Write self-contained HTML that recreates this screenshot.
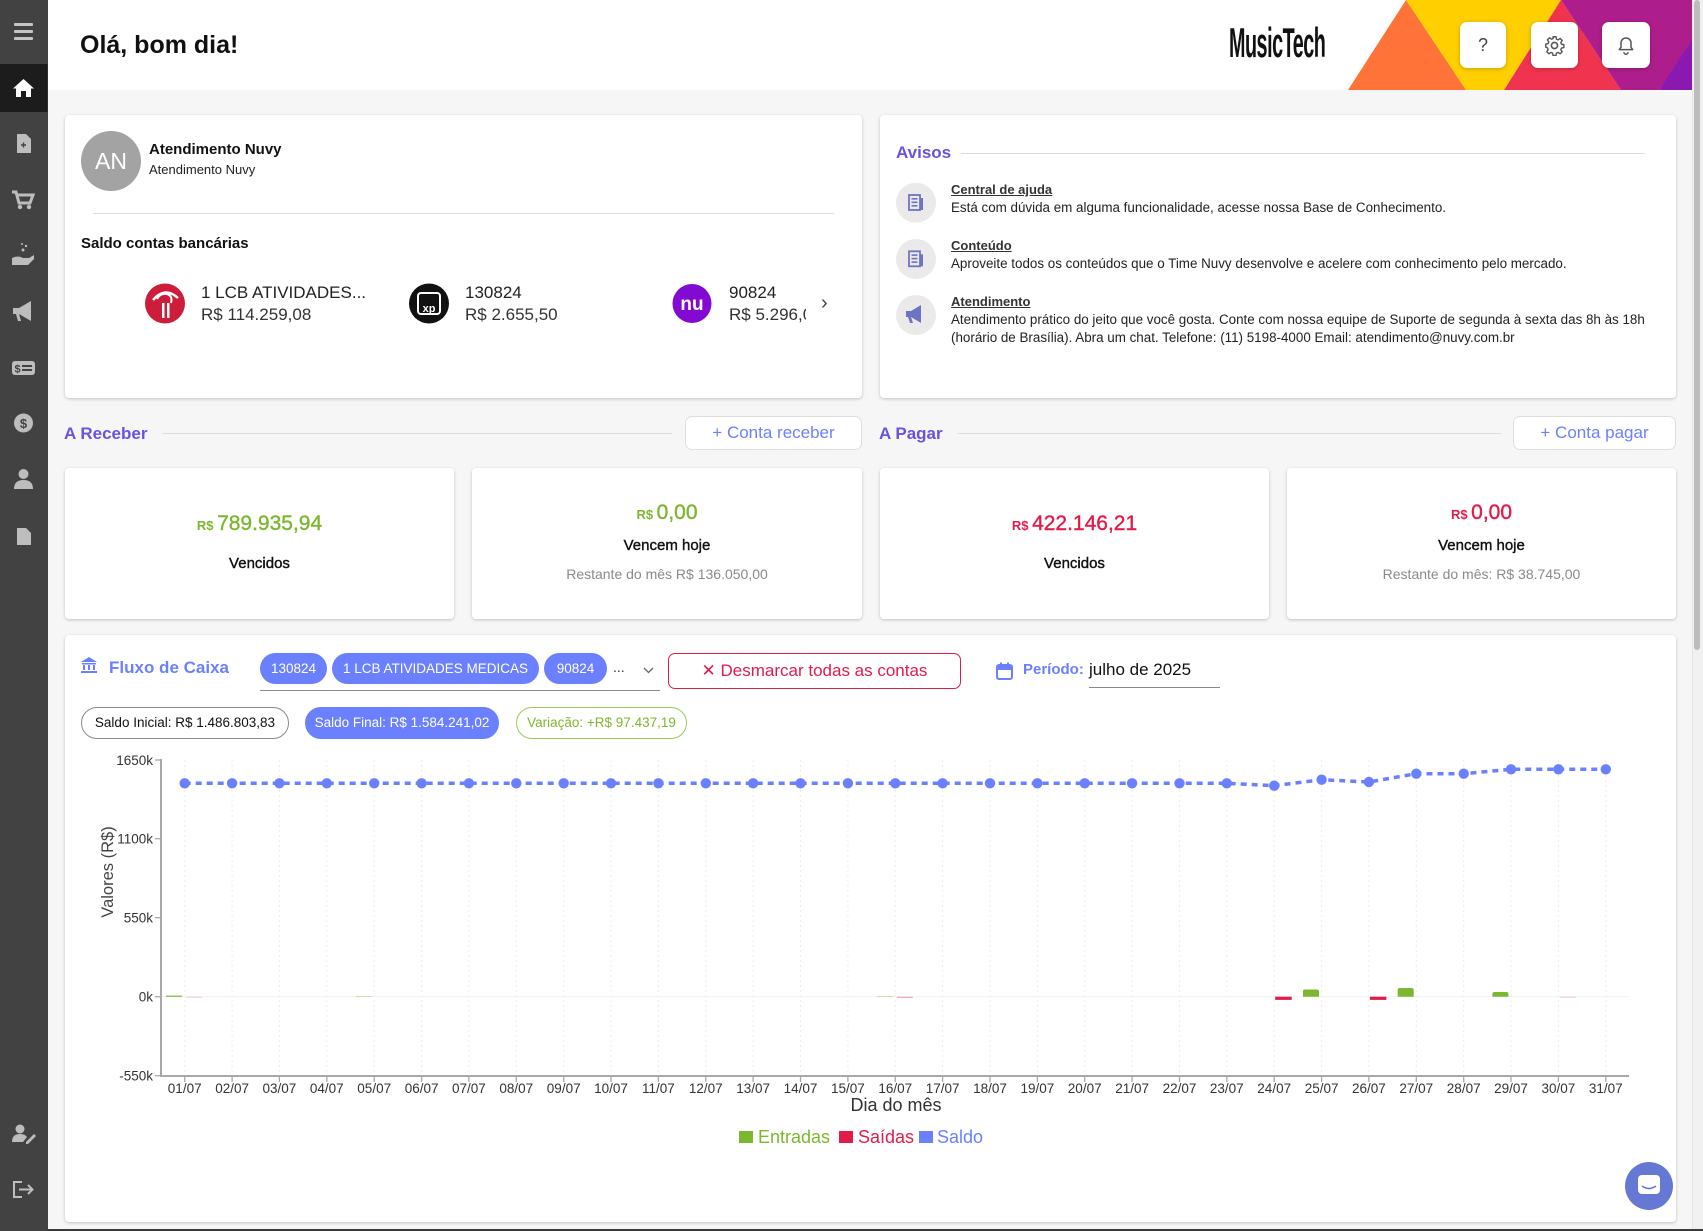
<!DOCTYPE html>
<html><head><meta charset="utf-8">
<style>
*{box-sizing:border-box;margin:0;padding:0}
html,body{width:1703px;height:1231px;overflow:hidden;background:#f6f6f6;font-family:"Liberation Sans",Arial,sans-serif;color:#222}
.a{position:absolute}
.t{position:absolute;white-space:nowrap;line-height:1}
.card{position:absolute;background:#fff;border-radius:4px;box-shadow:0 1px 3px rgba(0,0,0,.22)}
.btn{position:absolute;background:#fff;border-radius:7px;box-shadow:0 1px 4px rgba(0,0,0,.22)}
.chip{position:absolute;background:#6b80ff;color:#fff;border-radius:16px;font-size:13.5px;line-height:31px;height:31px;text-align:center;white-space:nowrap}
.pill{position:absolute;border-radius:16px;font-size:13.5px;height:32px;line-height:30px;text-align:center;white-space:nowrap}
.big{position:absolute;white-space:nowrap;line-height:1;text-align:center}
.med{-webkit-text-stroke:0.4px currentColor}
</style></head><body>

<!-- header -->
<div class="a" style="left:47px;top:0;width:1646px;height:90px;background:#fff"></div>
<div class="t" style="left:80px;top:33px;font-size:25px;font-weight:bold;color:#111">Olá, bom dia!</div>
<div class="t" style="left:1229px;top:22px;font-size:42px;font-weight:bold;color:#111;letter-spacing:-1px;transform:scaleX(0.47);transform-origin:0 0">MusicTech</div>

<svg class="a" style="left:0;top:0" width="1703" height="92">
  <polygon points="1348,90 1406,0 1466,90" fill="#ff7338"/>
  <polygon points="1406,0 1561,0 1504,90 1466,90" fill="#ffcf00"/>
  <polygon points="1504,90 1561,0 1621,90" fill="#f0334e"/>
  <polygon points="1561,0 1692,0 1692,42 1659,90 1621,90" fill="#ae1d8c"/>
  <polygon points="1659,90 1692,40 1692,90" fill="#8a19b2"/>
</svg>

<div class="btn" style="left:1460px;top:22px;width:46px;height:46px"></div>
<div class="t" style="left:1460px;top:36px;width:46px;text-align:center;font-size:18px;color:#444">?</div>
<div class="btn" style="left:1531px;top:22px;width:47px;height:46px"></div>
<svg class="a" style="left:1544px;top:35px" width="21" height="21" viewBox="0 0 24 24">
  <path d="M12 8.5a3.5 3.5 0 1 0 0 7a3.5 3.5 0 1 0 0-7z" fill="none" stroke="#555" stroke-width="1.8"/>
  <path d="M10.3 2h3.4l.5 2.7 1.9.8 2.3-1.6 2.4 2.4-1.6 2.3.8 1.9 2.7.5v3.4l-2.7.5-.8 1.9 1.6 2.3-2.4 2.4-2.3-1.6-1.9.8-.5 2.7h-3.4l-.5-2.7-1.9-.8-2.3 1.6-2.4-2.4 1.6-2.3-.8-1.9L2 13.7v-3.4l2.7-.5.8-1.9-1.6-2.3 2.4-2.4 2.3 1.6 1.9-.8z" fill="none" stroke="#555" stroke-width="1.6" stroke-linejoin="round"/>
</svg>
<div class="btn" style="left:1602px;top:22px;width:48px;height:46px"></div>
<svg class="a" style="left:1616px;top:35px" width="20" height="21" viewBox="0 0 24 24">
  <path d="M12 3c-3.5 0-6 2.6-6 6v5l-2 3h16l-2-3V9c0-3.4-2.5-6-6-6z" fill="none" stroke="#555" stroke-width="1.8" stroke-linejoin="round"/>
  <path d="M9.5 20a2.5 2.5 0 0 0 5 0" fill="none" stroke="#555" stroke-width="1.8"/>
</svg>

<!-- scrollbar -->
<div class="a" style="left:1692px;top:0;width:11px;height:1231px;background:#f1f1f1;border-left:1px solid #e4e4e4"></div>
<div class="a" style="left:1694px;top:0;width:6px;height:650px;background:#bdbdbd;border-radius:3px"></div>

<!-- sidebar -->
<div class="a" style="left:0;top:0;width:47.5px;height:1231px;background:#424242"></div>
<svg class="a" style="left:0;top:0" width="48" height="1231">
  <rect x="14" y="23" width="19" height="3" rx="1" fill="#c4c4c4"/>
  <rect x="14" y="30" width="19" height="3" rx="1" fill="#c4c4c4"/>
  <rect x="14" y="37" width="19" height="3" rx="1" fill="#c4c4c4"/>
  <rect x="0" y="64" width="47.5" height="48" fill="#1c1c1c"/>
  <path d="M23.5,79 L13,88.5 L16,88.5 L16,97 L21,97 L21,91 L26,91 L26,97 L31,97 L31,88.5 L34,88.5 Z" fill="#fff"/>
  <path d="M17,134 h9 l5,5 v14 h-14 z" fill="#bdbdbd"/><path d="M21,145 h5 M23.5,142.5 v5" stroke="#424242" stroke-width="1.4"/>
  <path d="M12,192 h4 l3,11 h11 l3,-8 h-15" fill="none" stroke="#bdbdbd" stroke-width="3"/><circle cx="20" cy="207" r="2.2" fill="#bdbdbd"/><circle cx="29" cy="207" r="2.2" fill="#bdbdbd"/>
  <path d="M12,258 q6,-3 11,0 h6 l5,-3 v4 l-6,6 h-16 z" fill="#bdbdbd"/><circle cx="23" cy="250" r="1.5" fill="#bdbdbd"/><circle cx="26" cy="246" r="1.2" fill="#bdbdbd"/><circle cx="22" cy="244" r="1" fill="#bdbdbd"/>
  <path d="M13,308 h6 l12,-7 v20 l-12,-7 h-6 z" fill="#bdbdbd"/><path d="M16,314 l2,7 h3 l-2,-7z" fill="#bdbdbd"/>
  <rect x="12" y="361" width="23" height="14" rx="3" fill="#bdbdbd"/><text x="14.5" y="372.5" font-size="11" font-weight="bold" fill="#424242" font-family="Liberation Sans">$</text><rect x="22" y="365" width="10" height="2" fill="#424242"/><rect x="22" y="369" width="10" height="2" fill="#424242"/>
  <circle cx="23.5" cy="423" r="9.5" fill="#bdbdbd"/><text x="23.5" y="428" font-size="13" font-weight="bold" fill="#424242" text-anchor="middle" font-family="Liberation Sans">$</text>
  <circle cx="23.5" cy="474" r="5" fill="#bdbdbd"/><path d="M14,489 q0,-9 9.5,-9 q9.5,0 9.5,9 z" fill="#bdbdbd"/>
  <path d="M17,528 h9 l5,5 v12 h-14 z" fill="#bdbdbd"/>
  <circle cx="20" cy="1129" r="4.5" fill="#bdbdbd"/><path d="M12,1142 q0,-8 8,-8 q5,0 7,3 l-4,5 z" fill="#bdbdbd"/><path d="M26,1142 l8,-8 2,2 -8,8 h-2z" fill="#bdbdbd"/>
  <path d="M22,1182 h-8 v15 h8" fill="none" stroke="#bdbdbd" stroke-width="2"/><path d="M19,1189.5 h13 M28,1185 l4.5,4.5 -4.5,4.5" fill="none" stroke="#bdbdbd" stroke-width="2"/>
</svg>

<!-- top left card -->
<div class="card" style="left:65px;top:115px;width:797px;height:283px"></div>
<div class="a" style="left:81px;top:131px;width:60px;height:60px;border-radius:50%;background:#a3a3a3;color:#fff;font-size:23px;line-height:60px;text-align:center">AN</div>
<div class="t" style="left:149px;top:142px;font-size:15px;font-weight:bold;color:#111">Atendimento Nuvy</div>
<div class="t" style="left:149px;top:163px;font-size:13px;color:#222">Atendimento Nuvy</div>
<div class="a" style="left:93px;top:213px;width:741px;height:1px;background:#dcdcdc"></div>
<div class="t" style="left:81px;top:236px;font-size:15px;font-weight:bold;color:#111">Saldo contas bancárias</div>

<svg class="a" style="left:0;top:0" width="860" height="400">
  <circle cx="165" cy="303.5" r="20" fill="#cc1e3a"/>
  <path d="M153,300 q12,-14 25,-2" fill="none" stroke="#fff" stroke-width="2.5"/>
  <path d="M157,299 q3,-6 10,-5 q6,2 4,9" fill="none" stroke="#fff" stroke-width="2"/>
  <rect x="162" y="303" width="2.5" height="15" fill="#fff"/><rect x="167" y="303" width="2.5" height="15" fill="#fff"/>
  <circle cx="429" cy="303.5" r="20" fill="#111"/>
  <rect x="418" y="293" width="22" height="21" rx="3" fill="none" stroke="#fff" stroke-width="2"/>
  <text x="429" y="312" font-size="11" font-weight="bold" fill="#fff" text-anchor="middle" font-family="Liberation Sans">xp</text>
  <circle cx="692" cy="303.5" r="19.5" fill="#820ad1"/>
  <text x="692" y="310" font-size="19" font-weight="bold" fill="#fff" text-anchor="middle" font-family="Liberation Sans">nu</text>
</svg>
<div class="t" style="left:201px;top:283.5px;font-size:17px;color:#222">1 LCB ATIVIDADES...</div>
<div class="t" style="left:201px;top:305.5px;font-size:17px;color:#333">R$ 114.259,08</div>
<div class="t" style="left:465px;top:283.5px;font-size:17px;color:#222">130824</div>
<div class="t" style="left:465px;top:305.5px;font-size:17px;color:#333">R$ 2.655,50</div>
<div class="t" style="left:729px;top:283.5px;font-size:17px;color:#222">90824</div>
<div class="a" style="left:729px;top:303px;width:77px;height:22px;overflow:hidden"><div class="t" style="left:0;top:2.5px;font-size:17px;color:#333">R$ 5.296,00</div></div>
<div class="t" style="left:821px;top:293px;font-size:20px;color:#444">›</div>

<!-- avisos card -->
<div class="card" style="left:880px;top:115px;width:796px;height:283px"></div>
<div class="t" style="left:896px;top:144px;font-size:17px;font-weight:bold;color:#6a52e0">Avisos</div>
<div class="a" style="left:961px;top:153px;width:684px;height:1px;background:#dcdcdc"></div>
<svg class="a" style="left:890px;top:180px" width="54" height="160">
  <circle cx="26" cy="22.7" r="20" fill="#ebe9ea"/>
  <rect x="19" y="15" width="11" height="15" fill="none" stroke="#6d74c2" stroke-width="1.8"/><rect x="21.5" y="18" width="6" height="1.6" fill="#6d74c2"/><rect x="21.5" y="21.5" width="6" height="1.6" fill="#6d74c2"/><rect x="21.5" y="25" width="6" height="1.6" fill="#6d74c2"/><rect x="30" y="18" width="3" height="12" fill="#6d74c2"/>
  <circle cx="26" cy="79" r="20" fill="#ebe9ea"/>
  <rect x="19" y="71.3" width="11" height="15" fill="none" stroke="#6d74c2" stroke-width="1.8"/><rect x="21.5" y="74.3" width="6" height="1.6" fill="#6d74c2"/><rect x="21.5" y="77.8" width="6" height="1.6" fill="#6d74c2"/><rect x="21.5" y="81.3" width="6" height="1.6" fill="#6d74c2"/><rect x="30" y="74.3" width="3" height="12" fill="#6d74c2"/>
  <circle cx="26" cy="135" r="20" fill="#ebe9ea"/>
  <path d="M16,131 h5 l10,-6 v18 l-10,-6 h-5 z" fill="#6d74c2"/><path d="M18,137 l2,6 h3 l-2,-6z" fill="#6d74c2"/>
</svg>
<div class="t" style="left:951px;top:183px;font-size:13px;font-weight:bold;color:#333;text-decoration:underline">Central de ajuda</div>
<div class="t" style="left:951px;top:201px;font-size:13.4px;color:#222">Está com dúvida em alguma funcionalidade, acesse nossa Base de Conhecimento.</div>
<div class="t" style="left:951px;top:239px;font-size:13px;font-weight:bold;color:#333;text-decoration:underline">Conteúdo</div>
<div class="t" style="left:951px;top:257px;font-size:13.4px;color:#222">Aproveite todos os conteúdos que o Time Nuvy desenvolve e acelere com conhecimento pelo mercado.</div>
<div class="t" style="left:951px;top:295px;font-size:13px;font-weight:bold;color:#333;text-decoration:underline">Atendimento</div>
<div class="t" style="left:951px;top:313px;font-size:13.4px;color:#222">Atendimento prático do jeito que você gosta. Conte com nossa equipe de Suporte de segunda à sexta das 8h às 18h</div>
<div class="t" style="left:951px;top:331px;font-size:13.4px;color:#222">(horário de Brasília). Abra um chat. Telefone: (11) 5198-4000 Email: atendimento@nuvy.com.br</div>

<!-- section headers -->
<div class="t" style="left:64px;top:425px;font-size:17px;font-weight:bold;color:#6a52e0">A Receber</div>
<div class="a" style="left:162px;top:433px;width:510px;height:1px;background:#dcdcdc"></div>
<div class="a" style="left:685px;top:416px;width:177px;height:34px;background:#fff;border:1px solid #dedede;border-radius:7px;color:#6b80ff;font-size:17px;line-height:32px;text-align:center">+ Conta receber</div>
<div class="t" style="left:879px;top:425px;font-size:17px;font-weight:bold;color:#6a52e0">A Pagar</div>
<div class="a" style="left:958px;top:433px;width:543px;height:1px;background:#dcdcdc"></div>
<div class="a" style="left:1513px;top:416px;width:163px;height:34px;background:#fff;border:1px solid #dedede;border-radius:7px;color:#6b80ff;font-size:17px;line-height:32px;text-align:center">+ Conta pagar</div>

<!-- value cards -->
<div class="card" style="left:65px;top:468px;width:389px;height:151px"></div>
<div class="card" style="left:472px;top:468px;width:390px;height:151px"></div>
<div class="card" style="left:880px;top:468px;width:389px;height:151px"></div>
<div class="card" style="left:1287px;top:468px;width:389px;height:151px"></div>

<div class="big" style="left:65px;width:389px;top:513px;color:#7cb82f"><span style="font-size:13px;font-weight:bold">R$ </span><span class="med" style="font-size:21px">789.935,94</span></div>
<div class="big med" style="left:65px;width:389px;top:556px;font-size:15px;color:#111">Vencidos</div>

<div class="big" style="left:472px;width:390px;top:502px;color:#7cb82f"><span style="font-size:13px;font-weight:bold">R$ </span><span class="med" style="font-size:21px">0,00</span></div>
<div class="big med" style="left:472px;width:390px;top:538px;font-size:15px;color:#111">Vencem hoje</div>
<div class="big" style="left:472px;width:390px;top:567px;font-size:14px;color:#8a8a8a">Restante do mês R$ 136.050,00</div>

<div class="big" style="left:880px;width:389px;top:513px;color:#e31b4b"><span style="font-size:13px;font-weight:bold">R$ </span><span class="med" style="font-size:21px">422.146,21</span></div>
<div class="big med" style="left:880px;width:389px;top:556px;font-size:15px;color:#111">Vencidos</div>

<div class="big" style="left:1287px;width:389px;top:502px;color:#e31b4b"><span style="font-size:13px;font-weight:bold">R$ </span><span class="med" style="font-size:21px">0,00</span></div>
<div class="big med" style="left:1287px;width:389px;top:538px;font-size:15px;color:#111">Vencem hoje</div>
<div class="big" style="left:1287px;width:389px;top:567px;font-size:14px;color:#8a8a8a">Restante do mês: R$ 38.745,00</div>

<!-- fluxo de caixa card -->
<div class="card" style="left:65px;top:635px;width:1611px;height:587px"></div>
<svg class="a" style="left:80px;top:656px" width="18" height="18" viewBox="0 0 18 18">
  <path d="M1,6 L9,1 L17,6 Z" fill="#6b80ff"/><rect x="2" y="7" width="14" height="1.5" fill="#6b80ff"/>
  <rect x="3" y="9" width="2" height="5" fill="#6b80ff"/><rect x="8" y="9" width="2" height="5" fill="#6b80ff"/><rect x="13" y="9" width="2" height="5" fill="#6b80ff"/>
  <rect x="1" y="15" width="16" height="2" fill="#6b80ff"/>
</svg>
<div class="t" style="left:109px;top:658.5px;font-size:17px;font-weight:bold;color:#6b80ff">Fluxo de Caixa</div>

<div class="chip" style="left:260px;top:653px;width:67px">130824</div>
<div class="chip" style="left:332px;top:653px;width:207px">1 LCB ATIVIDADES MEDICAS</div>
<div class="chip" style="left:544px;top:653px;width:63px">90824</div>
<div class="t" style="left:613px;top:660px;font-size:14px;color:#333">...</div>
<svg class="a" style="left:643px;top:667px" width="11" height="7"><path d="M1,1 L5.5,5.5 L10,1" fill="none" stroke="#666" stroke-width="1.3"/></svg>
<div class="a" style="left:260px;top:690px;width:400px;height:1px;background:#8a8a8a"></div>

<div class="a" style="left:668px;top:653px;width:293px;height:36px;border:1px solid #e31b4b;border-radius:7px"></div>
<div class="t" style="left:668px;width:293px;text-align:center;top:662px;font-size:17px;color:#e31b4b">✕ Desmarcar todas as contas</div>

<svg class="a" style="left:996px;top:662px" width="17" height="18" viewBox="0 0 17 18">
  <rect x="1" y="3" width="15" height="14" rx="2" fill="none" stroke="#6b80ff" stroke-width="2"/>
  <rect x="1" y="3" width="15" height="5" fill="#6b80ff"/>
  <rect x="4" y="0.5" width="2" height="4" fill="#6b80ff"/><rect x="11" y="0.5" width="2" height="4" fill="#6b80ff"/>
</svg>
<div class="t" style="left:1023px;top:661.5px;font-size:15px;font-weight:bold;color:#6b80ff">Período:</div>
<div class="t" style="left:1089px;top:660.5px;font-size:17px;color:#111">julho de 2025</div>
<div class="a" style="left:1089px;top:687px;width:131px;height:1px;background:#8a8a8a"></div>

<div class="pill" style="left:81px;top:707px;width:208px;background:#fff;border:1px solid #8a8a8a;color:#111">Saldo Inicial: R$ 1.486.803,83</div>
<div class="pill" style="left:305px;top:707px;width:194px;background:#6b80ff;border:1px solid #6b80ff;color:#fff">Saldo Final: R$ 1.584.241,02</div>
<div class="pill" style="left:516px;top:707px;width:171px;background:#fff;border:1px solid #9bcc5a;color:#7cb82f">Variação: +R$ 97.437,19</div>

<!-- chart -->
<svg class="a" style="left:0;top:0" width="1703" height="1231" font-family="Liberation Sans, Arial, sans-serif">
  <g stroke="#ececec" stroke-width="1" stroke-dasharray="2 3">
    <line x1="184.7" y1="760" x2="184.7" y2="1076"/><line x1="232.1" y1="760" x2="232.1" y2="1076"/><line x1="279.4" y1="760" x2="279.4" y2="1076"/><line x1="326.8" y1="760" x2="326.8" y2="1076"/><line x1="374.2" y1="760" x2="374.2" y2="1076"/><line x1="421.6" y1="760" x2="421.6" y2="1076"/><line x1="468.9" y1="760" x2="468.9" y2="1076"/><line x1="516.3" y1="760" x2="516.3" y2="1076"/><line x1="563.7" y1="760" x2="563.7" y2="1076"/><line x1="611.0" y1="760" x2="611.0" y2="1076"/><line x1="658.4" y1="760" x2="658.4" y2="1076"/><line x1="705.8" y1="760" x2="705.8" y2="1076"/><line x1="753.1" y1="760" x2="753.1" y2="1076"/><line x1="800.5" y1="760" x2="800.5" y2="1076"/><line x1="847.9" y1="760" x2="847.9" y2="1076"/><line x1="895.3" y1="760" x2="895.3" y2="1076"/><line x1="942.6" y1="760" x2="942.6" y2="1076"/><line x1="990.0" y1="760" x2="990.0" y2="1076"/><line x1="1037.4" y1="760" x2="1037.4" y2="1076"/><line x1="1084.7" y1="760" x2="1084.7" y2="1076"/><line x1="1132.1" y1="760" x2="1132.1" y2="1076"/><line x1="1179.5" y1="760" x2="1179.5" y2="1076"/><line x1="1226.8" y1="760" x2="1226.8" y2="1076"/><line x1="1274.2" y1="760" x2="1274.2" y2="1076"/><line x1="1321.6" y1="760" x2="1321.6" y2="1076"/><line x1="1368.9" y1="760" x2="1368.9" y2="1076"/><line x1="1416.3" y1="760" x2="1416.3" y2="1076"/><line x1="1463.7" y1="760" x2="1463.7" y2="1076"/><line x1="1511.0" y1="760" x2="1511.0" y2="1076"/><line x1="1558.4" y1="760" x2="1558.4" y2="1076"/><line x1="1605.8" y1="760" x2="1605.8" y2="1076"/>
  </g>
  <line x1="161" y1="996.7" x2="1629" y2="996.7" stroke="#f1f1f1" stroke-width="1"/>

  <!-- bars -->
  <rect x="166" y="995.6" width="16" height="1.2" fill="#7cb82f"/>
  <rect x="186" y="996.7" width="16" height="1" fill="#f2c6d2"/>
  <rect x="356" y="996" width="16" height="1" fill="#cde0a8"/>
  <rect x="877" y="996" width="16" height="1" fill="#cde0a8"/>
  <rect x="897" y="996.7" width="16" height="1.2" fill="#f0a5b8"/>
  <rect x="1560" y="996.7" width="16" height="1" fill="#f2c6d2"/>
  <rect x="1275.2" y="996.7" width="16.5" height="3.2" fill="#e31b4b"/>
  <rect x="1369.9" y="996.7" width="16.5" height="3.2" fill="#e31b4b"/>
  <path d="M1303,996.7 V991.5 q0,-2 2,-2 h12 q2,0 2,2 V996.7 Z" fill="#7cb82f"/>
  <path d="M1397.7,996.7 V990 q0,-2 2,-2 h12 q2,0 2,2 V996.7 Z" fill="#7cb82f"/>
  <path d="M1492.4,996.7 V993.8 q0,-1.8 2,-1.8 h12 q2,0 2,1.8 V996.7 Z" fill="#7cb82f"/>

  <!-- axes -->
  <line x1="161" y1="759" x2="161" y2="1077" stroke="#a8a8a8" stroke-width="2"/>
  <line x1="160" y1="1076" x2="1629" y2="1076" stroke="#a8a8a8" stroke-width="2"/>
  <g stroke="#a8a8a8" stroke-width="1.3">
    <line x1="155" y1="760" x2="161" y2="760"/><line x1="155" y1="838.7" x2="161" y2="838.7"/><line x1="155" y1="917.7" x2="161" y2="917.7"/><line x1="155" y1="996.7" x2="161" y2="996.7"/><line x1="155" y1="1075.7" x2="161" y2="1075.7"/>
    <line x1="184.7" y1="1076" x2="184.7" y2="1082"/><line x1="232.1" y1="1076" x2="232.1" y2="1082"/><line x1="279.4" y1="1076" x2="279.4" y2="1082"/><line x1="326.8" y1="1076" x2="326.8" y2="1082"/><line x1="374.2" y1="1076" x2="374.2" y2="1082"/><line x1="421.6" y1="1076" x2="421.6" y2="1082"/><line x1="468.9" y1="1076" x2="468.9" y2="1082"/><line x1="516.3" y1="1076" x2="516.3" y2="1082"/><line x1="563.7" y1="1076" x2="563.7" y2="1082"/><line x1="611.0" y1="1076" x2="611.0" y2="1082"/><line x1="658.4" y1="1076" x2="658.4" y2="1082"/><line x1="705.8" y1="1076" x2="705.8" y2="1082"/><line x1="753.1" y1="1076" x2="753.1" y2="1082"/><line x1="800.5" y1="1076" x2="800.5" y2="1082"/><line x1="847.9" y1="1076" x2="847.9" y2="1082"/><line x1="895.3" y1="1076" x2="895.3" y2="1082"/><line x1="942.6" y1="1076" x2="942.6" y2="1082"/><line x1="990.0" y1="1076" x2="990.0" y2="1082"/><line x1="1037.4" y1="1076" x2="1037.4" y2="1082"/><line x1="1084.7" y1="1076" x2="1084.7" y2="1082"/><line x1="1132.1" y1="1076" x2="1132.1" y2="1082"/><line x1="1179.5" y1="1076" x2="1179.5" y2="1082"/><line x1="1226.8" y1="1076" x2="1226.8" y2="1082"/><line x1="1274.2" y1="1076" x2="1274.2" y2="1082"/><line x1="1321.6" y1="1076" x2="1321.6" y2="1082"/><line x1="1368.9" y1="1076" x2="1368.9" y2="1082"/><line x1="1416.3" y1="1076" x2="1416.3" y2="1082"/><line x1="1463.7" y1="1076" x2="1463.7" y2="1082"/><line x1="1511.0" y1="1076" x2="1511.0" y2="1082"/><line x1="1558.4" y1="1076" x2="1558.4" y2="1082"/><line x1="1605.8" y1="1076" x2="1605.8" y2="1082"/>
  </g>
  <g font-size="13.5" fill="#333" text-anchor="end">
    <text x="153" y="765">1650k</text><text x="153" y="843.5">1100k</text><text x="153" y="922.5">550k</text><text x="153" y="1001.5">0k</text><text x="153" y="1080.5">-550k</text>
  </g>
  <g font-size="13.5" fill="#333" text-anchor="middle">
    <text x="184.7" y="1093">01/07</text><text x="232.1" y="1093">02/07</text><text x="279.4" y="1093">03/07</text><text x="326.8" y="1093">04/07</text><text x="374.2" y="1093">05/07</text><text x="421.6" y="1093">06/07</text><text x="468.9" y="1093">07/07</text><text x="516.3" y="1093">08/07</text><text x="563.7" y="1093">09/07</text><text x="611.0" y="1093">10/07</text><text x="658.4" y="1093">11/07</text><text x="705.8" y="1093">12/07</text><text x="753.1" y="1093">13/07</text><text x="800.5" y="1093">14/07</text><text x="847.9" y="1093">15/07</text><text x="895.3" y="1093">16/07</text><text x="942.6" y="1093">17/07</text><text x="990.0" y="1093">18/07</text><text x="1037.4" y="1093">19/07</text><text x="1084.7" y="1093">20/07</text><text x="1132.1" y="1093">21/07</text><text x="1179.5" y="1093">22/07</text><text x="1226.8" y="1093">23/07</text><text x="1274.2" y="1093">24/07</text><text x="1321.6" y="1093">25/07</text><text x="1368.9" y="1093">26/07</text><text x="1416.3" y="1093">27/07</text><text x="1463.7" y="1093">28/07</text><text x="1511.0" y="1093">29/07</text><text x="1558.4" y="1093">30/07</text><text x="1605.8" y="1093">31/07</text>
  </g>
  <text x="896" y="1111" font-size="18" fill="#333" text-anchor="middle">Dia do mês</text>
  <text transform="translate(113,872) rotate(-90)" font-size="16.5" fill="#444" text-anchor="middle">Valores (R$)</text>

  <!-- saldo line -->
  <polyline fill="none" stroke="#6b80ff" stroke-width="3.5" stroke-dasharray="6 5" points="184.7,783.3 232.1,783.3 279.4,783.3 326.8,783.3 374.2,783.3 421.6,783.3 468.9,783.3 516.3,783.3 563.7,783.3 611.0,783.3 658.4,783.3 705.8,783.3 753.1,783.3 800.5,783.3 847.9,783.3 895.3,783.3 942.6,783.3 990.0,783.3 1037.4,783.3 1084.7,783.3 1132.1,783.3 1179.5,783.3 1226.8,783.3 1274.2,785.7 1321.6,779.7 1368.9,782 1416.3,773.7 1463.7,773.7 1511.0,769.3 1558.4,769.3 1605.8,769.3"/>
  <g fill="#6b80ff">
    <circle cx="184.7" cy="783.3" r="5.2"/><circle cx="232.1" cy="783.3" r="5.2"/><circle cx="279.4" cy="783.3" r="5.2"/><circle cx="326.8" cy="783.3" r="5.2"/><circle cx="374.2" cy="783.3" r="5.2"/><circle cx="421.6" cy="783.3" r="5.2"/><circle cx="468.9" cy="783.3" r="5.2"/><circle cx="516.3" cy="783.3" r="5.2"/><circle cx="563.7" cy="783.3" r="5.2"/><circle cx="611.0" cy="783.3" r="5.2"/><circle cx="658.4" cy="783.3" r="5.2"/><circle cx="705.8" cy="783.3" r="5.2"/><circle cx="753.1" cy="783.3" r="5.2"/><circle cx="800.5" cy="783.3" r="5.2"/><circle cx="847.9" cy="783.3" r="5.2"/><circle cx="895.3" cy="783.3" r="5.2"/><circle cx="942.6" cy="783.3" r="5.2"/><circle cx="990.0" cy="783.3" r="5.2"/><circle cx="1037.4" cy="783.3" r="5.2"/><circle cx="1084.7" cy="783.3" r="5.2"/><circle cx="1132.1" cy="783.3" r="5.2"/><circle cx="1179.5" cy="783.3" r="5.2"/><circle cx="1226.8" cy="783.3" r="5.2"/><circle cx="1274.2" cy="785.7" r="5.2"/><circle cx="1321.6" cy="779.7" r="5.2"/><circle cx="1368.9" cy="782" r="5.2"/><circle cx="1416.3" cy="773.7" r="5.2"/><circle cx="1463.7" cy="773.7" r="5.2"/><circle cx="1511.0" cy="769.3" r="5.2"/><circle cx="1558.4" cy="769.3" r="5.2"/><circle cx="1605.8" cy="769.3" r="5.2"/>
  </g>

  <!-- legend -->
  <rect x="739" y="1131" width="14" height="12" fill="#7cb82f"/>
  <text x="758" y="1143" font-size="18" fill="#7cb82f">Entradas</text>
  <rect x="839" y="1131" width="14" height="12" fill="#e31b4b"/>
  <text x="858" y="1143" font-size="18" fill="#e31b4b">Saídas</text>
  <rect x="919" y="1131" width="14" height="12" fill="#6b80ff"/>
  <text x="937" y="1143" font-size="18" fill="#6b80ff">Saldo</text>

  <!-- chat bubble -->
  <circle cx="1649" cy="1186" r="24" fill="#6578d4"/>
  <rect x="1638" y="1175" width="22" height="19" rx="4" fill="#fff"/>
  <path d="M1642,1186 q7,5 14,0" fill="none" stroke="#6578d4" stroke-width="1.6"/>
</svg>

<div class="a" style="left:47px;top:1229px;width:1656px;height:2px;background:#3a3a3a"></div>
</body></html>
